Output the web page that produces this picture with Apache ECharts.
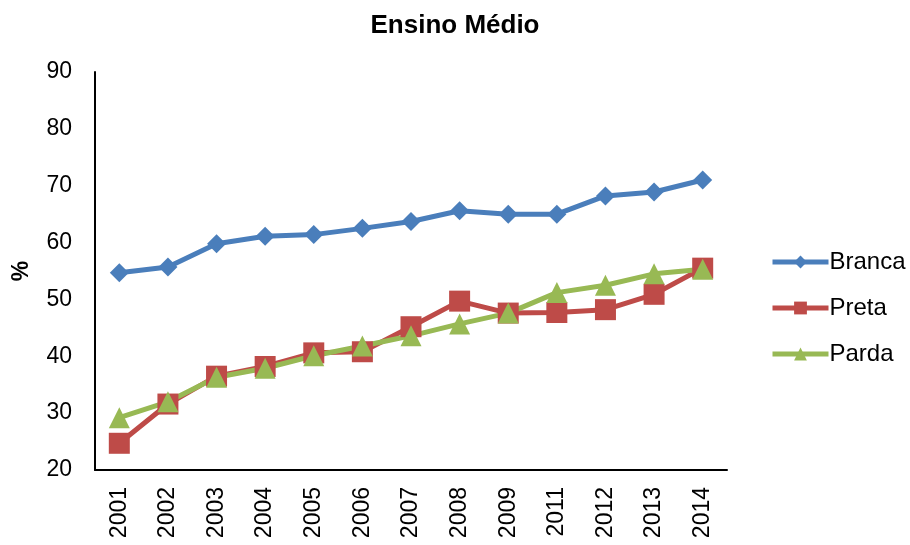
<!DOCTYPE html>
<html><head><meta charset="utf-8">
<script src="https://cdn.jsdelivr.net/npm/echarts@6/dist/echarts.min.js"></script>
<style>html,body{margin:0;padding:0;background:#fff}#c{width:910px;height:545px}</style>
</head><body><div id="c"></div>
<script>
const categories = ['2001','2002','2003','2004','2005','2006','2007','2008','2009','2011','2012','2013','2014'];
const branca = [54.7,55.7,59.8,61.1,61.4,62.5,63.7,65.6,65.0,65.0,68.2,68.9,71.0];
const preta  = [24.7,31.6,36.5,38.2,40.6,40.8,45.2,49.7,47.6,47.7,48.2,50.9,55.5];
const parda  = [29.2,32.0,36.3,37.9,40.1,41.8,43.6,45.7,47.6,51.2,52.5,54.5,55.3];
const yTicks = {min:20, max:90, interval:10};
const font = 'Liberation Sans, Arial, sans-serif';
const chart = echarts.init(document.getElementById('c'), null, {renderer:'canvas'});
function s(name, data, color, symbol, size){
  return {name, type:'line', data, symbol, symbolSize:size, showSymbol:true,
    itemStyle:{color}, lineStyle:{color, width:5}, animation:false};
}
chart.setOption({
  backgroundColor:'#fff',
  title:{text:'Ensino Médio', left:'center', top:8,
    textStyle:{fontFamily:font, fontSize:26, fontWeight:'bold', color:'#000'}},
  grid:{left:95, right:183, top:72, bottom:75, containLabel:false, outerBoundsMode:'none'},
  legend:{orient:'vertical', left:765, top:245, itemWidth:56, itemHeight:16, itemGap:22,
    lineStyle:{width:5},
    textStyle:{fontFamily:font, fontSize:24, color:'#000', padding:[0,0,0,-4]},
    data:['Branca','Preta','Parda']},
  xAxis:{type:'category', data:categories, boundaryGap:true,
    axisLine:{lineStyle:{color:'#000', width:2}}, axisTick:{show:false},
    axisLabel:{rotate:90, fontFamily:font, fontSize:23, color:'#000', margin:17}},
  yAxis:{type:'value', min:yTicks.min, max:yTicks.max, interval:yTicks.interval,
    name:'%', nameLocation:'middle', nameRotate:90, nameGap:62,
    nameTextStyle:{fontFamily:font, fontSize:23, fontWeight:'bold', color:'#000'},
    axisLine:{show:true, lineStyle:{color:'#000', width:2}}, axisTick:{show:false},
    splitLine:{show:false},
    axisLabel:{fontFamily:font, fontSize:23, color:'#000', margin:23}},
  series:[
    s('Branca', branca, '#4a7ebb', 'diamond', 19),
    s('Preta', preta, '#be4b48', 'rect', 21),
    s('Parda', parda, '#98b954', 'triangle', 21)
  ]
});
</script></body></html>
